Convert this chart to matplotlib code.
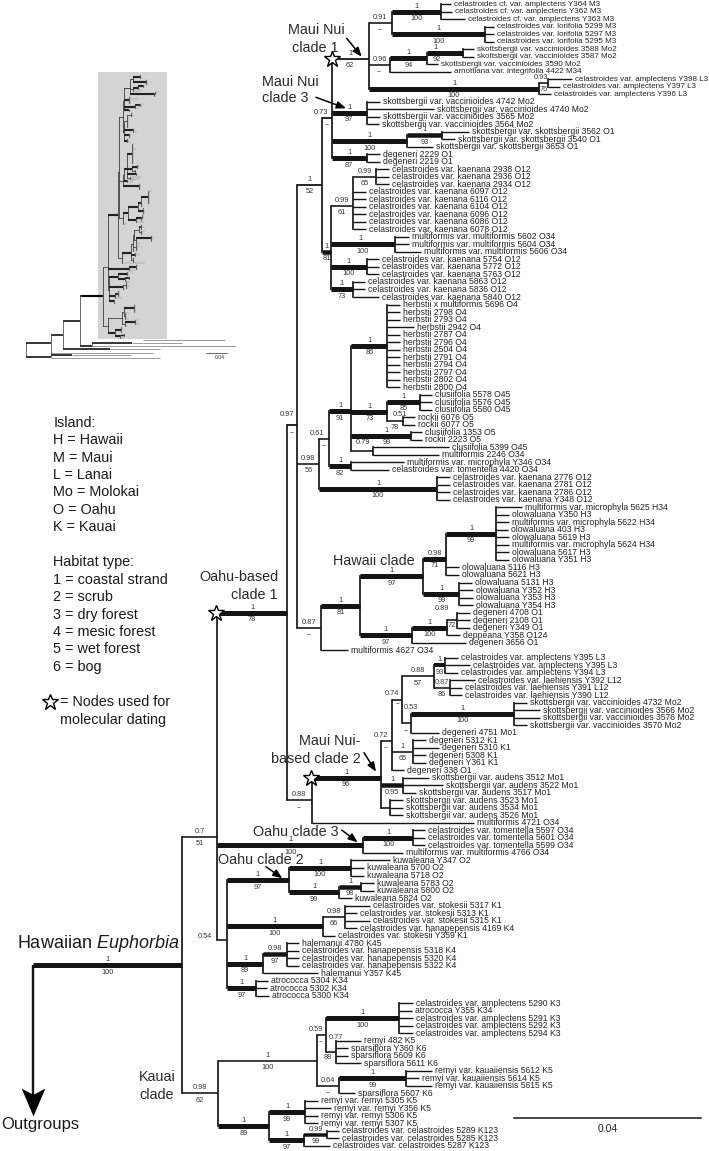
import matplotlib
matplotlib.use("Agg")
import matplotlib.pyplot as plt
from matplotlib.patches import Rectangle

plt.rcParams['font.family'] = ['Liberation Sans', 'DejaVu Sans']
plt.rcParams['mathtext.fontset'] = 'custom'
plt.rcParams['mathtext.it'] = 'Liberation Sans:italic'
plt.rcParams['mathtext.rm'] = 'Liberation Sans'

# ---------- leaves, top to bottom ----------
taxa = [
 "celastroides cf. var. amplectens Y364 M3","celastroides cf. var. amplectens Y362 M3","celastroides cf. var. amplectens Y363 M3",
 "celastroides var. lorifolia 5299 M3","celastroides var. lorifolia 5297 M3","celastroides var. lorifolia 5295 M3",
 "skottsbergii var. vaccinioides 3588 Mo2","skottsbergii var. vaccinioides 3587 Mo2","skottsbergii var. vaccinioides 3590 Mo2",
 "arnottiana var. integrifolia 4422 M34",
 "celastroides var. amplectens Y398 L3","celastroides var. amplectens Y397 L3","celastroides var. amplectens Y396 L3",
 "skottsbergii var. vaccinioides 4742 Mo2","skottsbergii var. vaccinioides 4740 Mo2","skottsbergii var. vaccinioides 3565 Mo2","skottsbergii var. vaccinioides 3564 Mo2",
 "skottsbergii var. skottsbergii 3562 O1","skottsbergii var. skottsbergii 3540 O1","skottsbergii var. skottsbergii 3653 O1",
 "degeneri 2229 O1","degeneri 2219 O1",
 "celastroides var. kaenana 2938 O12","celastroides var. kaenana 2936 O12","celastroides var. kaenana 2934 O12",
 "celastroides var. kaenana 6097 O12","celastroides var. kaenana 6116 O12","celastroides var. kaenana 6104 O12",
 "celastroides var. kaenana 6096 O12","celastroides var. kaenana 6086 O12","celastroides var. kaenana 6078 O12",
 "multiformis var. multiformis 5602 O34","multiformis var. multiformis 5604 O34","multiformis var. multiformis 5606 O34",
 "celastroides var. kaenana 5754 O12","celastroides var. kaenana 5772 O12","celastroides var. kaenana 5763 O12",
 "celastroides var. kaenana 5863 O12","celastroides var. kaenana 5836 O12","celastroides var. kaenana 5840 O12",
 "herbstii x multiformis 5696 O4","herbstii 2798 O4","herbstii 2793 O4","herbstii 2942 O4","herbstii 2787 O4","herbstii 2796 O4",
 "herbstii 2504 O4","herbstii 2791 O4","herbstii 2794 O4","herbstii 2797 O4","herbstii 2802 O4","herbstii 2800 O4",
 "clusiifolia 5578 O45","clusiifolia 5576 O45","clusiifolia 5580 O45","rockii 6076 O5","rockii 6077 O5",
 "clusiifolia 1353 O5","rockii 2223 O5","clusiifolia 5399 O45","multiformis 2246 O34",
 "multiformis var. microphyla Y346 O34","celastroides var. tomentella 4420 O34",
 "celastroides var. kaenana 2776 O12","celastroides var. kaenana 2781 O12","celastroides var. kaenana 2786 O12","celastroides var. kaenana Y348 O12",
 "multiformis var. microphyla 5625 H34","olowaluana Y350 H3","multiformis var. microphyla 5622 H34","olowaluana 403 H3",
 "olowaluana 5619 H3","multiformis var. microphyla 5624 H34","olowaluana 5617 H3","olowaluana Y351 H3",
 "olowaluana 5116 H3","olowaluana 5621 H3","olowaluana 5131 H3","olowaluana Y352 H3","olowaluana Y353 H3","olowaluana Y354 H3",
 "degeneri 4708 O1","degeneri 2108 O1","degeneri Y349 O1","deppeana Y358 O124","degeneri 3656 O1","multiformis 4627 O34",
 "celastroides var. amplectens Y395 L3","celastroides var. amplectens Y395 L3","celastroides var. amplectens Y394 L3",
 "celastroides var. laehiensis Y392 L12","celastroides var. laehiensis Y391 L12","celastroides var. laehiensis Y390 L12",
 "skottsbergii var. vaccinioides 4732 Mo2","skottsbergii var. vaccinioides 3566 Mo2","skottsbergii var. vaccinioides 3576 Mo2","skottsbergii var. vaccinioides 3570 Mo2",
 "degeneri 4751 Mo1","degeneri 5312 K1","degeneri 5310 K1","degeneri 5308 K1","degeneri Y361 K1","degeneri 338 O1",
 "skottsbergii var. audens 3512 Mo1","skottsbergii var. audens 3522 Mo1","skottsbergii var. audens 3517 Mo1",
 "skottsbergii var. audens 3523 Mo1","skottsbergii var. audens 3534 Mo1","skottsbergii var. audens 3526 Mo1",
 "multiformis 4721 O34",
 "celastroides var. tomentella 5597 O34","celastroides var. tomentella 5601 O34","celastroides var. tomentella 5599 O34",
 "multiformis var. multiformis 4766 O34",
 "kuwaleana Y347 O2","kuwaleana 5700 O2","kuwaleana 5718 O2","kuwaleana 5783 O2","kuwaleana 5800 O2","kuwaleana 5824 O2",
 "celastroides var. stokesii 5317 K1","celastroides var. stokesii 5313 K1","celastroides var. stokesii 5315 K1",
 "celastroides var. hanapepensis 4169 K4","celastroides var. stokesii Y359 K1",
 "halemanui 4780 K45","celastroides var. hanapepensis 5318 K4","celastroides var. hanapepensis 5320 K4","celastroides var. hanapepensis 5322 K4","halemanui Y357 K45",
 "atrococca 5304 K34","atrococca 5302 K34","atrococca 5300 K34",
 "celastroides var. amplectens 5290 K3","atrococca Y355 K34","celastroides var. amplectens 5291 K3","celastroides var. amplectens 5292 K3","celastroides var. amplectens 5294 K3",
 "remyi 482 K5","sparsiflora Y360 K6","sparsiflora 5609 K6","sparsiflora 5611 K6",
 "remyi var. kauaiiensis 5612 K5","remyi var. kauaiiensis 5614 K5","remyi var. kauaiiensis 5615 K5","sparsiflora 5607 K6",
 "remyi var. remyi 5305 K5","remyi var. remyi Y356 K5","remyi var. remyi 5306 K5","remyi var. remyi 5307 K5",
 "celastroides var. celastroides 5289 K123","celastroides var. celastroides 5285 K123","celastroides var. celastroides 5287 K123",
]
taxa_x = [
 454,455,468, 497,497,497, 477,477,441, 454, 575,563,554, 383,437,383,382, 472,458,436, 383,383,
 392,392,392, 369,369,369,369,369,369, 412,412,424, 382,382,382, 368,368,382,
 403,403,403,417,403,403,403,403,403,403,403,403, 435,435,435,418,418, 425,425,452,442, 407,392, 453,453,453,453,
 525,512,512,511,512,512,512,512, 462,462, 475,476,476,476, 473,473,473,463,469, 351,
 461,473,461, 478,465,465, 530,543,543,530, 442, 429,442,429,429, 407,
 432,446,419, 406,406,406, 477, 428,428,428, 406,
 393,367,367,377,377,355, 373,360,373,360,338, 302,302,302,302,321, 271,270,272,
 416,415,416,416,416, 364,351,351,364, 435,422,435,358, 321,334,321,321, 342,342,333,
]
taxa_parent = (
 ['a1']*3 + ['a2']*3 + ['a92']*2 + ['a94'] + ['m96'] + ['a76']*2 + ['aL'] +
 ['b97']*4 + ['b93']*2 + ['b100'] + ['b87']*2 +
 ['c65']*3 + ['c61']*6 + ['c100']*3 + ['d100']*3 + ['c73']*3 +
 ['e86']*12 + ['e85']*3 + ['e78']*2 + ['e99']*2 + ['e79']*2 + ['e82']*2 + ['e100']*4 +
 ['f99']*8 + ['f71']*2 + ['f99b']*4 + ['f72']*3 + ['f100'] + ['f97c'] + ['n87'] +
 ['g93']*3 + ['g86']*3 + ['g100']*4 + ['g53'] + ['g65']*4 + ['g72'] + ['g95']*3 + ['g96x']*3 + ['n88'] +
 ['h100']*3 + ['h100o'] +
 ['i100']*3 + ['i98']*2 + ['i99'] + ['i66']*4 + ['i100k'] + ['i97e']*4 + ['i89'] + ['i97f']*3 +
 ['k100']*5 + ['k88']*4 + ['k99']*3 + ['k64'] + ['k99f']*4 + ['k99g']*2 + ['k97g']
)

# ---------- internal branches ----------
node_id = ['root','n0','n1','n78','n97','n52','n73','m62','m91','a1','a2','m96','a94','a92','aL','a76',
 'b97','b100','b93','b87','n81','c61','c65','c100','d100','c73',
 'n56','e61','e91','e86','e73','e85','e78','e99','e79','e82','e100',
 'n87','f81','f97b','f71','f99','f99b','f97c','f100','f72',
 'n88','g96','g72','g74','g88','g93','g86','g53','g100','g65','g95','g96x',
 'h100o','h100','n54','i97','i100','i99','i98','i100k','i66','i89','i97e','i97f',
 'k62','k100l','k59','k100','k88','k64','k99','k89','k99f','k97g','k99g']
node_parent = [None,'root','n0','n1','n78','n97','n52','n73','m62','m91','m91','m62','m96','a94','m62','aL',
 'n73','n73','b100','n73','n52','n81','c61','n81','n81','n81',
 'n97','n56','e61','e91','e91','e73','e73','e91','e91','e61','n56',
 'n97','n87','f81','f97b','f71','f97b','f81','f97c','f100',
 'n78','n88','g96','g72','g74','g88','g88','g74','g53','g72','g96','g96',
 'n1','h100o','n1','n54','i97','i97','i99','n54','i100k','n54','i89','n54',
 'n0','k62','k100l','k59','k59','k100l','k64','k62','k89','k89','k97g']
node_x = [33,182,217,287,297.3,321.7,331.7,368.7,391.7,441,485,390.3,426.7,462.7,539.3,548.3,
 366.7,407,442.3,366.7,331,353.3,376,395,366.7,352.7,
 319.3,328.7,351.3,387.3,387.3,420,402.7,411.3,372.7,351.3,436.7,
 320.7,360,423.3,446,496,459.3,411.7,447.3,456.7,
 311.7,380.7,391.7,402,434.3,445,450,411.3,514.3,413.3,403.3,390,
 363.3,413.3,226.7,289,351,339,361,322.7,345.3,263.3,286.7,256,
 217.7,316.7,326,399.3,335.7,339,405.7,269.3,305,304.3,326.7]
node_width = [0,5,1.6,5,1.8,1.8,1.8,1.8,1.6,5,5,1.6,5,5,5,1.6,
 5,5,4.5,5,4.5,1.6,1.6,5,5,5,
 1.6,1.6,5,5,5,5,1.6,5,1.6,5,5,
 1.6,5,5,5,5,5,5,5,1.6,
 1.6,5,1.6,1.6,1.6,4,1.6,1.6,5,1.6,4.5,1.6,
 5,5,1.6,5,5,5,4.5,5,1.6,5,4.5,5,
 1.6,1.6,1.6,5,1.6,1.6,5,5,5,5,3.5]
node_post = ['','1','0.7','1','0.97','1','0.73','1','0.91','1','1','0.96','1','1','1','0.93',
 '1','1','1','1','1','0.99','0.99','1','1','1',
 '0.98','0.61','1','1','1','1','0.51','1','0.79','1','1',
 '0.87','1','1','0.98','1','1','1','1','0.89',
 '0.88','1','0.72','0.74','0.88','1','0.87','0.53','1','1','1','',
 '1','1','0.54','1','1','1','1','1','0.98','1','0.98','1',
 '0.98','1','0.59','1','0.77','0.64','1','1','1','1','0.99']
node_boot = ['','100','51','78','--','52','--','62','--','100','100','--','94','92','100','76',
 '97','100','93','87','81','61','65','100','100','73',
 '56','--','91','86','73','85','78','99','','82','100',
 '--','81','97','71','99','99','97','100','72',
 '--','96','--','--','57','93','86','--','100','65','0.95','',
 '100','100','','97','100','99','98','100','66','89','97','97',
 '62','100','--','100','88','--','99','89','99','97','99']
node_y_fixed = {'n1': 836.7}

label_shift = {  # node: (post dx, post dy, boot dx, boot dy) in pixels
 'a92':(-9,0,-8,0),'a76':(-3,0,0,0),'e78':(5,-1,0,0),'e99':(5,0,5,0),'e79':(1,-3,0,0),
 'f72':(-10,-6,0,-2),'g74':(-5,-1,1,-3),'g72':(-5,0,0,0),'g53':(4,-10,0,0),
 'k59':(-5,0,0,0),'k88':(5,-9,-3,-2),'n73':(-6,0,0,0),'n97':(-5,-5,0,0),
 'e61':(-7,0,0,0),'n54':(-17,2,0,0),'c100':(-3,0,0,0),'e85':(0,0,0,-1),
}

# ---------- annotations ----------
row_first, row_step = 4.0, 7.513
clade_text = ["Maui Nui","clade 1","Maui Nui","clade 3","Hawaii clade","Oahu-based","clade 1","Maui Nui-","based clade 2","Oahu clade 3","Oahu clade 2","Kauai","clade"]
clade_tx = [287.7,291.7,262,262,333.3,199.3,231,299.3,271,253.3,218.3,139.3,139.3]
clade_ty = [30,47.7,81.7,98.3,561,577.3,595,741,758.7,831.7,860,1077.3,1095.3]
arrow_from = [(346.7,38.3),(316,97.3),(364,752.7),(341.7,830),(266,866.7)]
arrow_to = [(361.7,56.7),(346,108.3),(376,771.7),(357.7,842.3),(282.3,878.3)]
star_nodes = ['m62','n78','g96']
island_lines = ["Island:","H = Hawaii","M = Maui","L = Lanai","Mo = Molokai","O = Oahu","K = Kauai"]
habitat_lines = ["Habitat type:","1 = coastal strand","2 = scrub","3 = dry forest","4 = mesic forest","5 = wet forest","6 = bog"]
dating_lines = ["= Nodes used for","molecular dating"]
scale_value = "0.04"

# inset: outgroup branches below the gray panel
og_black_x0 = [25.7,25.7,50.7,50.7,63.3,63.3,80,80,92.3]
og_black_x1 = [50.7,50.7,63.3,71.7,80,110,102.3,92.3,132]
og_black_y = [342.7,356.7,335,355.3,320.7,349.3,295.8,346,342.7]
og_stem_x = [25.7,50.7,63.3,80,92.3]
og_stem_y0 = [342.7,335,320.7,295.8,342.7]
og_stem_y1 = [356.7,356.7,349.3,346,346]
og_gray_x0 = [50.7,71.7,50.7,110,132,143,143,92.3,143]
og_gray_x1 = [160,131,153,160,143,225,182,143,236]
og_gray_y = [357.7,355.3,352.7,349.3,342.7,340,342.7,346,346]

# ---------- layout computation ----------
px = 0.72
fig = plt.figure(figsize=(7.09,11.51),dpi=100)
ax = fig.add_axes([0,0,1,1]); ax.set_xlim(0,709); ax.set_ylim(1151,0); ax.axis('off')
INK = '#141414'

X = dict(zip(node_id,node_x)); W = dict(zip(node_id,node_width)); PAR = dict(zip(node_id,node_parent))
kids = {n:[] for n in node_id}
for n,p in zip(node_id,node_parent):
    if p: kids[p].append(n)
leaf_y = [row_first+i*row_step for i in range(len(taxa))]
leaf_kids = {n:[] for n in node_id}
for i,p in enumerate(taxa_parent): leaf_kids[p].append(i)
Y = {}
def compute(n):
    ys = [compute(k) for k in kids[n]] + [leaf_y[i] for i in leaf_kids[n]]
    Y[n] = node_y_fixed.get(n, sum(ys)/len(ys))
    return Y[n]
compute('root')

def draw_tree(fx, fy, thick_scale, color, leaf_color, leaf_lw):
    for n in node_id:
        if n=='root': continue
        ax.plot([fx(X[PAR[n]]),fx(X[n])],[fy(Y[n])]*2,color=color,lw=W[n]*px*thick_scale,solid_capstyle='butt',zorder=3)
    for n in node_id:
        ys=[Y[k] for k in kids[n]]+[leaf_y[i] for i in leaf_kids[n]]
        if n=='root' or len(ys)<2: continue
        ax.plot([fx(X[n])]*2,[fy(min(ys)),fy(max(ys))],color=color,lw=1.7*px*thick_scale,solid_capstyle='projecting',zorder=3)
    for i,p in enumerate(taxa_parent):
        ax.plot([fx(X[p]),fx(taxa_x[i]-3)],[fy(leaf_y[i])]*2,color=leaf_color,lw=leaf_lw,solid_capstyle='butt',zorder=3)

draw_tree(lambda x:x, lambda y:y, 1.0, INK, INK, 1.4*px)

# root stem and arrow
ax.plot([X['root']]*2,[Y['n0'],1098],color=INK,lw=2.4*px,solid_capstyle='butt',zorder=3)
ax.plot(X['root'],1101.5,marker=[(0,-1),(-0.85,1),(0,0.55),(0.85,1)],ms=20,color='black',mew=0,zorder=4)

# leaves
for i,(t,x,y) in enumerate(zip(taxa,taxa_x,leaf_y)):
    ax.text(x,y,t,fontsize=5.76 if i<13 else 6.2,va='center',ha='left',color='#222222',zorder=5)

# support
for n,pst,bt in zip(node_id,node_post,node_boot):
    if n=='root': continue
    mid=(X[PAR[n]]+X[n])/2; y=Y[n]
    s=label_shift.get(n,(0,0,0,0))
    if pst: ax.text(mid+s[0],y-5.5+s[1],pst,fontsize=5.3,ha='center',va='center',color='#333333',zorder=6)
    if bt: ax.text(mid+s[2],y+7+s[3],bt,fontsize=5.3,ha='center',va='center',color='#333333',zorder=6)

# clade labels
for t,x,y in zip(clade_text,clade_tx,clade_ty):
    ax.text(x,y,t,fontsize=10.4,ha='left',va='center',color='#2a2a2a',zorder=7)
ax.text(17,943,r'Hawaiian $\mathit{Euphorbia}$',fontsize=13,ha='left',va='center',color='#1a1a1a',zorder=7)
ax.text(1,1125,'Outgroups',fontsize=12,ha='left',va='center',color='#1a1a1a',zorder=7)
for a,b in zip(arrow_from,arrow_to):
    ax.annotate('',xy=b,xytext=a,arrowprops=dict(arrowstyle='-|>,head_length=0.55,head_width=0.22',color='black',lw=1.1,shrinkA=0,shrinkB=0),zorder=8)

# stars
for n in star_nodes:
    ax.plot(X[PAR[n]]-(0 if n=='m62' else 1),Y[n],marker='*',ms=12,mfc='white',mec='black',mew=1,zorder=9)

# scale bar
ax.plot([514.3,701],[1118.3,1118.3],color=INK,lw=1.5*px)
ax.text(607.7,1129.5,scale_value,fontsize=7.5,ha='center',va='center',color='#222222')

# legend
for i,t in enumerate(island_lines):
    ax.text(53.3,422.7+i*17.4,t,fontsize=10.4,ha='left',va='center',color='#1a1a1a')
for i,t in enumerate(habitat_lines):
    ax.text(53.3,562.3+i*17.4,t,fontsize=10.4,ha='left',va='center',color='#1a1a1a')
ax.plot(50,702,marker='*',ms=12,mfc='white',mec='black',mew=1)
ax.text(60,702,dating_lines[0],fontsize=10.4,ha='left',va='center',color='#1a1a1a')
ax.text(60,719.5,dating_lines[1],fontsize=10.4,ha='left',va='center',color='#1a1a1a')

# inset
ax.add_patch(Rectangle((97.7,72),69,267,fc='#d4d4d4',ec='none',zorder=1))
inx=lambda x:108+(x-217)*0.143
iny=lambda y:75+(y-4)*0.23
draw_tree(inx, iny, 0.42, '#222222', '#777777', 0.25)
for a,b,y in zip(og_black_x0,og_black_x1,og_black_y):
    ax.plot([a,b],[y,y],color='black',lw=1.1,solid_capstyle='butt',zorder=3)
for x,a,b in zip(og_stem_x,og_stem_y0,og_stem_y1):
    ax.plot([x,x],[a,b],color='#333333',lw=0.5,zorder=3)
for a,b,y in zip(og_gray_x0,og_gray_x1,og_gray_y):
    ax.plot([a,b],[y,y],color='#999999',lw=0.7,solid_capstyle='butt',zorder=2)
ax.plot([205.7,226.7],[352.7,352.7],color='#333333',lw=0.5)
ax.text(220,357,scale_value,fontsize=3.6,ha='center',va='center',color='#333333')

fig.savefig('out.png',dpi=100)
